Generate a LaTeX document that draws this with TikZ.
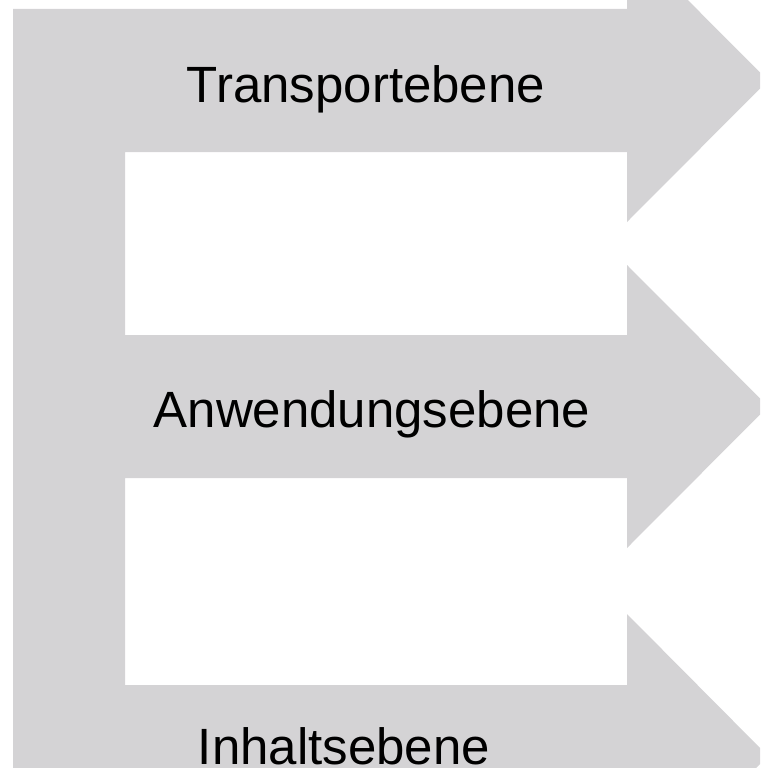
\documentclass[tikz,border=0pt]{standalone}
\usepackage{fontspec}
\setmainfont{Liberation Sans}
\definecolor{layergray}{RGB}{212,211,213}
\begin{document}
\begin{tikzpicture}[x=1pt,y=-1pt,
  layerlabel/.style={font=\fontsize{51}{60}\selectfont, text=black, inner sep=0pt, anchor=base}]
\useasboundingbox (0,0) rectangle (760,768);
\clip (0,0) rectangle (760,768);
% comb-shaped layer stack: spine on the left, three arrows to the right
\fill[layergray]
  (13,9) -- (627,9) -- (627,-61) -- (768,80.5) -- (627,222) -- (627,152)
  -- (125,152) -- (125,335) -- (627,335) -- (627,265) -- (768,406.5)
  -- (627,548) -- (627,478) -- (125,478) -- (125,685) -- (627,685)
  -- (627,614) -- (768,756) -- (627,898) -- (627,828) -- (13,828) -- cycle;
\node[layerlabel] (transport) at (366,102) {Transportebene};
\node[layerlabel] (anwendung) at (372,427) {Anwendungsebene};
\node[layerlabel] (inhalt) at (344,764) {Inhaltsebene};
\end{tikzpicture}
\end{document}
